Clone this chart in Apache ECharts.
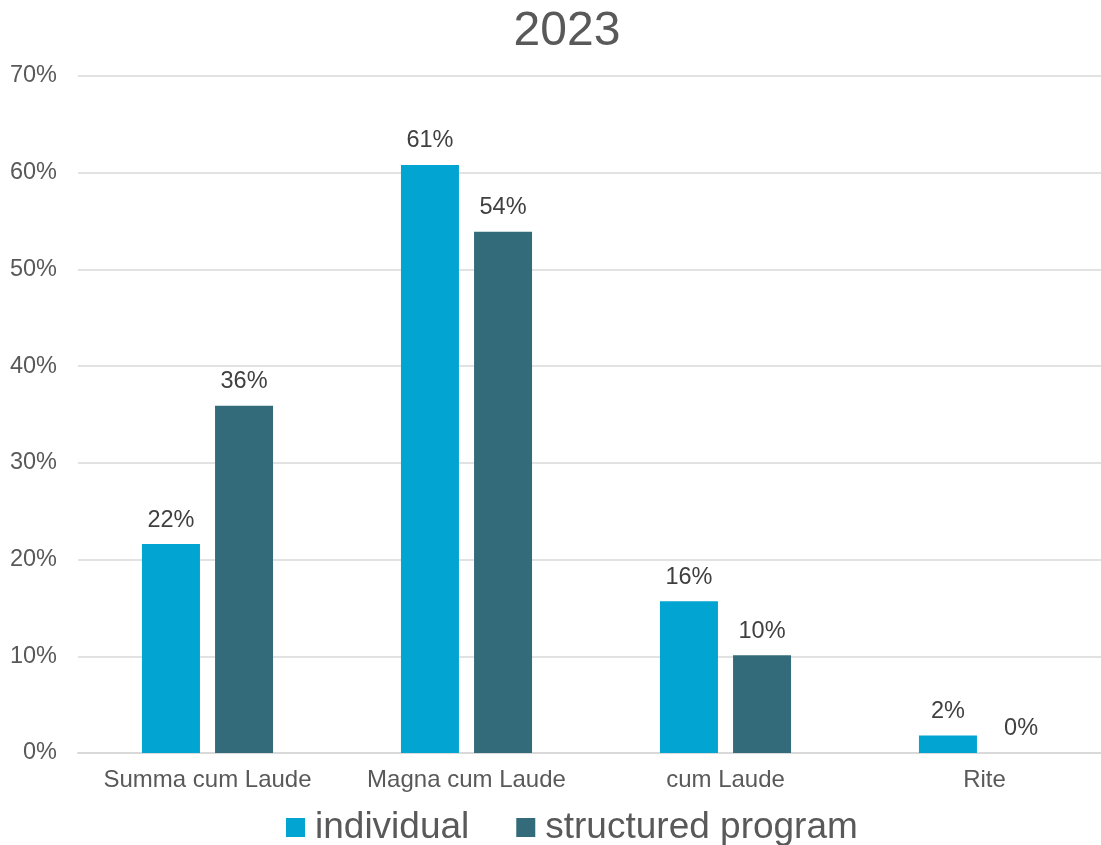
<!DOCTYPE html>
<html>
<head>
<meta charset="utf-8">
<script src="https://cdn.jsdelivr.net/npm/echarts@6/dist/echarts.min.js"></script>
<style>
html,body{margin:0;padding:0;background:#fff;overflow:hidden;width:1101px;height:845px;}
#chart{width:1120px;height:845px;}
</style>
</head>
<body>
<div id="chart"></div>
<script>
const titleText = '2023';
const categories = ['Summa cum Laude', 'Magna cum Laude', 'cum Laude', 'Rite'];
const seriesNames = ['individual', 'structured program'];
const individual = [0.216, 0.608, 0.157, 0.018];
const structured = [0.359, 0.539, 0.101, 0.0];
const yTicks = [0, 0.1, 0.2, 0.3, 0.4, 0.5, 0.6, 0.7];

const font = 'Liberation Sans, Arial, sans-serif';
const chart = echarts.init(document.getElementById('chart'), null, {renderer: 'canvas'});
const pct = v => Math.round(v * 100) + '%';
const labelCfg = {
  show: true, position: 'top', distance: 12,
  color: '#404040', fontSize: 23.5, fontFamily: font,
  formatter: p => pct(p.value)
};
chart.setOption({
  animation: false,
  backgroundColor: '#ffffff',
  title: {
    text: titleText, left: 567, top: 8, padding: 0, textAlign: 'center',
    textStyle: {color: '#595959', fontSize: 48, fontWeight: 'normal', fontFamily: font}
  },
  legend: {
    data: seriesNames, left: 286, top: 809, padding: 0,
    itemWidth: 19, itemHeight: 19, itemGap: 47, icon: 'rect',
    textStyle: {color: '#595959', fontSize: 37, fontFamily: font, padding: [0, 0, 0, 5]}
  },
  grid: {left: 78, top: 76, width: 1036, bottom: 92, containLabel: false},
  xAxis: {
    type: 'category', data: categories,
    axisLine: {lineStyle: {color: '#d9d9d9', width: 2}},
    axisTick: {show: false},
    axisLabel: {color: '#595959', fontSize: 24, fontFamily: font, margin: 15, interval: 0, hideOverlap: false}
  },
  yAxis: {
    type: 'value', min: yTicks[0], max: yTicks[yTicks.length - 1], interval: 0.1,
    axisLine: {show: false}, axisTick: {show: false},
    splitLine: {lineStyle: {color: '#d9d9d9', width: 1.5}},
    axisLabel: {color: '#595959', fontSize: 23.5, fontFamily: font, margin: 21, formatter: v => pct(v)}
  },
  series: [
    {name: seriesNames[0], type: 'bar', data: individual, barWidth: 58, barGap: '26%',
     itemStyle: {color: '#02A4D1'}, label: labelCfg},
    {name: seriesNames[1], type: 'bar', data: structured, barWidth: 58, barGap: '26%',
     itemStyle: {color: '#336B7A'}, label: labelCfg}
  ]
});
</script>
</body>
</html>
